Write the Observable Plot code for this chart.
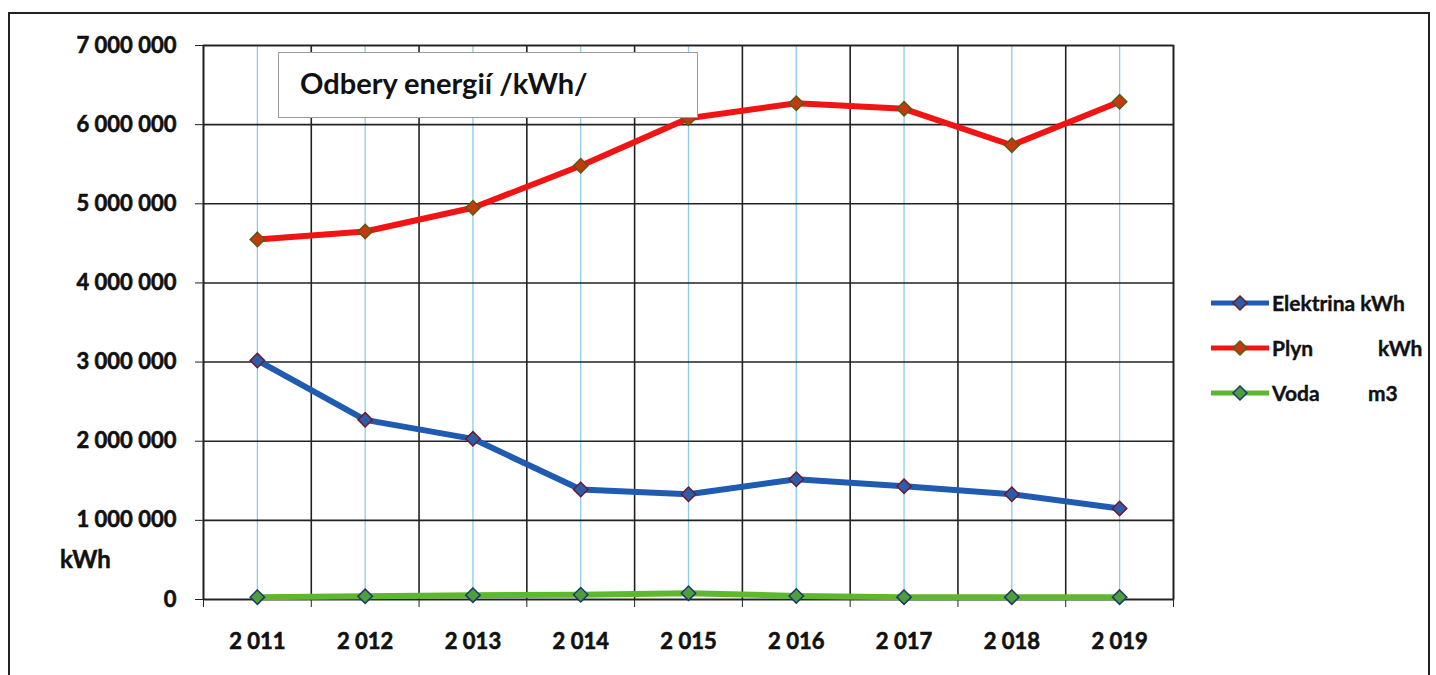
<!DOCTYPE html>
<html>
<head>
<meta charset="utf-8">
<script src="https://cdn.jsdelivr.net/npm/d3@7"></script>
<script src="https://cdn.jsdelivr.net/npm/@observablehq/plot@0.6"></script>
<style>
  html, body { margin: 0; padding: 0; background: #fff; overflow: hidden; }
  body { width: 1436px; height: 675px; position: relative; font-family: Lato, "Open Sans", sans-serif; font-weight: bold; color: #111; }
  #frame { position: absolute; left: 8px; top: 12px; width: 1422px; height: 700px; border: 2px solid #222; box-sizing: border-box; }
  #chart { position: absolute; left: 0; top: 0; }
  #chart text { stroke: #111; stroke-width: 0.6px; }
  #title { position: absolute; left: 278px; top: 52px; width: 420px; height: 66px; box-sizing: border-box;
           border: 1.5px solid #9a9a9a; background: #fff; font-size: 29px; font-weight: bold; line-height: 60px; padding-left: 21px; }
  #ylab { position: absolute; left: 60px; top: 544px; font-size: 24px; -webkit-text-stroke: 0.5px #111; }
  #legend { position: absolute; left: 1211px; top: 280px; -webkit-text-stroke: 0.4px #111; }
  .li { display: flex; align-items: center; height: 45px; font-size: 21px; white-space: pre; }
  .li svg { margin-right: 3px; }
</style>
</head>
<body>
<div id="frame"></div>
<div id="chart"></div>
<div id="title">Odbery energií /kWh/</div>
<div id="ylab">kWh</div>
<div id="legend"></div>
<script>
const years = [2011, 2012, 2013, 2014, 2015, 2016, 2017, 2018, 2019];
const elektrina = [3020000, 2270000, 2030000, 1390000, 1330000, 1520000, 1430000, 1330000, 1150000];
const plyn = [4550000, 4650000, 4950000, 5480000, 6080000, 6270000, 6200000, 5740000, 6290000];
const voda = [30000, 40000, 55000, 60000, 80000, 45000, 30000, 30000, 30000];
const yTicks = [0, 1000000, 2000000, 3000000, 4000000, 5000000, 6000000, 7000000];
const seriesNames = ["Elektrina", "Plyn", "Voda"];
const seriesUnits = ["kWh", "kWh", "m3"];
const lineColors = ["#1f5bb0", "#f01414", "#5db82e"];
const markerFill = ["#2c5ea8", "#c23a10", "#4f9e3c"];
const markerStroke = ["#6e1830", "#5a5a10", "#1c3a6e"];

const seriesValues = [elektrina, plyn, voda];
const data = [];
seriesNames.forEach((s, i) => years.forEach((y, j) => data.push({series: s, year: y, value: seriesValues[i][j], idx: i})));

const boundaries = d3.range(years[0] - 0.5, years[years.length - 1] + 1, 1);
const spaceFmt = v => d3.format(",")(v).replace(/,/g, " ");

const marks = [
  Plot.gridX(years, {stroke: "#8ccbea", strokeOpacity: 1, strokeWidth: 1.3}),
  Plot.ruleX(boundaries, {stroke: "#222", strokeWidth: 1.6}),
  Plot.ruleY(yTicks, {stroke: "#222", strokeWidth: 1.6}),
  Plot.frame({stroke: "#222", strokeWidth: 1.6}),
  Plot.axisY(yTicks, {tickSize: 8, tickPadding: 19, tickFormat: spaceFmt, fontSize: 22, fontWeight: "bold", label: null, stroke: "#222"}),
  Plot.axisX(boundaries, {tickSize: 8, tickFormat: () => "", label: null, stroke: "#222"}),
  Plot.axisX(years, {tickSize: 0, tickPadding: 34, tickFormat: spaceFmt, fontSize: 22, fontWeight: "bold", label: null})
];
seriesNames.forEach((s, i) => {
  const d = data.filter(r => r.series === s);
  marks.push(Plot.line(d, {x: "year", y: "value", stroke: lineColors[i], strokeWidth: 6, strokeLinejoin: "round"}));
  marks.push(Plot.dot(d, {x: "year", y: "value", symbol: "diamond2", r: 6.5, fill: markerFill[i], stroke: markerStroke[i], strokeWidth: 1.5}));
});

const chart = Plot.plot({
  width: 1436,
  height: 675,
  marginLeft: 203,
  marginRight: 263,
  marginTop: 45,
  marginBottom: 76,
  style: {fontFamily: "Lato, 'Open Sans', sans-serif", color: "#111", background: "transparent", overflow: "visible"},
  x: {type: "linear", domain: [years[0] - 0.5, years[years.length - 1] + 0.5], axis: null},
  y: {domain: [0, 7000000], axis: null},
  marks
});
document.getElementById("chart").appendChild(chart);

const legend = document.getElementById("legend");
seriesNames.forEach((s, i) => {
  const row = document.createElement("div");
  row.className = "li";
  const label = s === "Elektrina" ? s + " " + seriesUnits[i] : s;
  row.innerHTML = `<svg width="58" height="18"><line x1="0" x2="58" y1="9" y2="9" stroke="${lineColors[i]}" stroke-width="5"/>` +
    `<path d="M29,2 L36,9 L29,16 L22,9Z" fill="${markerFill[i]}" stroke="${markerStroke[i]}" stroke-width="1.5"/></svg>` +
    `<span style="display:inline-block;width:${s === "Elektrina" ? "auto" : (s === "Plyn" ? "106px" : "96px")}">${label}</span>` +
    (s === "Elektrina" ? "" : `<span>${seriesUnits[i]}</span>`);
  legend.appendChild(row);
});
</script>
</body>
</html>
